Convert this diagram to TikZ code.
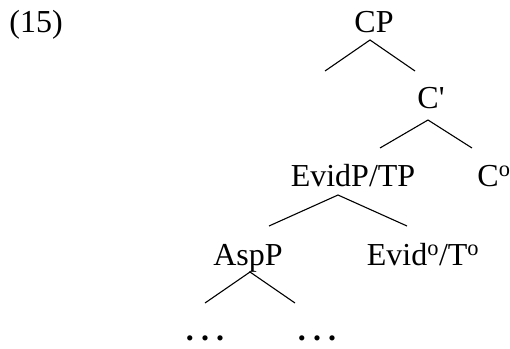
\documentclass[tikz,border=0pt]{standalone}
\usepackage{fontspec}
\setmainfont{Liberation Serif}
\usetikzlibrary{calc,positioning}

\newcommand{\spdots}{\bfseries.\hspace{0.22em}.\hspace{0.22em}.}

\begin{document}
\begin{tikzpicture}[x=1pt,y=-1pt,
    every node/.style={font=\fontsize{32}{38}\selectfont,inner sep=0pt,anchor=base},
    branch/.style={line width=1.1pt}]
\useasboundingbox (0,0) rectangle (510,348);

\node (nExNum) at (36,32) {(15)};
\node (nCP) at (374,32) {CP};
\node (nCbar) at (431,108) {C\textquotesingle};
\node (nEvidP) at (353,186) {EvidP/TP};
\node (nChead) at (494,186) {C\textsuperscript{o}};
\node (nAspP) at (248,265) {AspP};
\node (nEvidHead) at (423,265) {Evid\textsuperscript{o}/T\textsuperscript{o}};
\node (nDotsL) at (205,340) {\spdots};
\node (nDotsR) at (317,340) {\spdots};

\coordinate (cCPApex) at ($(nCP.base)+(-4,8)$);
\coordinate (cCPLeft) at (325,71);
\coordinate (cCPRight) at (415,71);
\coordinate (cCbarApex) at ($(nCbar.base)+(-3,12)$);
\coordinate (cCbarLeft) at (380,148);
\coordinate (cCbarRight) at (472,148);
\coordinate (cEvidApex) at ($(nEvidP.base)+(-15,9)$);
\coordinate (cEvidLeft) at (269,226);
\coordinate (cEvidRight) at (407,226);
\coordinate (cAspApex) at ($(nAspP.base)+(2,7)$);
\coordinate (cAspLeft) at (205,303);
\coordinate (cAspRight) at (295,303);

\foreach \a/\l/\r in
{cCPApex/cCPLeft/cCPRight,
    cCbarApex/cCbarLeft/cCbarRight,
    cEvidApex/cEvidLeft/cEvidRight,
    cAspApex/cAspLeft/cAspRight}
{
    \draw[branch] (\l) -- (\a) -- (\r);
};

\end{tikzpicture}
\end{document}
